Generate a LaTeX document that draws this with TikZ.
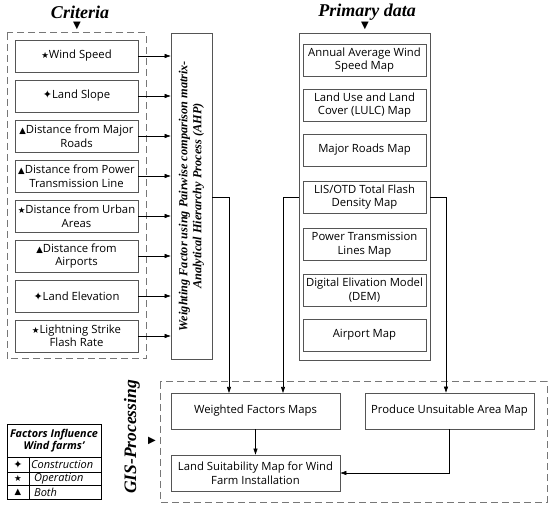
\documentclass[tikz,border=0pt]{standalone}
\usepackage{fontspec}
\setmainfont{Open Sans}
\newfontfamily\tnr{Liberation Serif}
\newfontfamily\sym{DejaVu Sans}
\usetikzlibrary{arrows.meta}
\definecolor{ln}{HTML}{555555}
\definecolor{dl}{HTML}{777777}
\tikzset{
  box/.style={draw=ln, line width=0.8pt, rectangle, align=center, inner sep=1pt, font=\fontsize{11.3}{13.5}\selectfont, text=black},
  cbox/.style={box, minimum width=123pt, minimum height=32pt},
  dbox/.style={draw=dl, line width=1pt, dash pattern=on 7pt off 4pt},
  arr/.style={draw=black, line width=0.6pt, -{Triangle[length=6pt,width=4pt]}},
  conn/.style={draw=black, line width=0.6pt},
  ttl/.style={font=\tnr\bfseries\itshape\fontsize{18}{20}\selectfont},
  tri/.style={font=\sym\fontsize{10}{10}\selectfont},
}
\newcommand{\mk}[1]{{\sym\fontsize{8.5}{8.5}\selectfont #1}}
\newcommand{\mkc}{{\sym\fontsize{11}{8.5}\selectfont ✦}}
\begin{document}
\begin{tikzpicture}[x=1pt,y=-1pt]
\useasboundingbox (0,0) rectangle (550,508);
% Criteria
\node[ttl] (crt) at (80,12) {Criteria};
\node[tri] (crtri) at (77,26) {▼};
\draw[dbox] (7,33) rectangle (146,359);
\node[cbox] (c1) at (76.5,56) {\mk{★}Wind Speed};
\node[cbox] (c2) at (76.5,96) {\mkc Land Slope};
\node[cbox] (c3) at (76.5,136) {\mk{▲}Distance from Major\\Roads};
\node[cbox] (c4) at (76.5,176) {\mk{▲}Distance from Power\\Transmission Line};
\node[cbox] (c5) at (76.5,216) {\mk{★}Distance from Urban\\Areas};
\node[cbox] (c6) at (76.5,256) {\mk{▲}Distance from\\Airports};
\node[cbox] (c7) at (76.5,296) {\mkc Land Elevation};
\node[cbox] (c8) at (76.5,336) {\mk{★}Lightning Strike\\Flash Rate};
% AHP
\node[box, minimum width=41pt, minimum height=326pt] (ahp) at (191.5,196) {};
\node[rotate=90, align=center, font=\tnr\bfseries\itshape\fontsize{12.3}{14}\selectfont] (ahpt) at (ahp.center) {Weighting Factor using Pairwise comparison matrix-\\Analytical Hierarchy Process (AHP)};
\foreach \i in {1,...,8} { \draw[arr] (c\i.east) -- (ahp.west |- c\i.east); }
% Primary data
\node[ttl] (pdt) at (367,12) {Primary data};
\node[tri] (pdtri) at (365,26) {▼};
\node[box, minimum width=131pt, minimum height=327pt] (outer) at (364.5,196.5) {};
\node[cbox] (p1) at (364.5,60) {Annual Average Wind\\Speed Map};
\node[cbox] (p2) at (364.5,105) {Land Use and Land\\Cover (LULC) Map};
\node[cbox] (p3) at (364.5,150) {Major Roads Map};
\node[cbox] (p4) at (364.5,197) {LIS/OTD Total Flash\\Density Map};
\node[cbox] (p5) at (364.5,244.5) {Power Transmission\\Lines Map};
\node[cbox] (p6) at (364.5,290) {Digital Elivation Model\\(DEM)};
\node[cbox] (p7) at (364.5,335) {Airport Map};
% GIS processing
\draw[dbox] (160,382) rectangle (547,502);
\node[rotate=90, font=\tnr\bfseries\itshape\fontsize{17.5}{19}\selectfont] (gis) at (132,437) {GIS-Processing};
\node[tri] (gistri) at (152,441) {▶};
\node[box, minimum width=169pt, minimum height=36pt] (wfm) at (255.5,411) {Weighted Factors Maps};
\node[box, minimum width=169pt, minimum height=36pt] (lsm) at (255.5,473) {Land Suitability Map for Wind\\Farm Installation};
\node[box, minimum width=169pt, minimum height=36pt] (pua) at (449.5,411) {Produce Unsuitable Area Map};
\coordinate (j1) at (229,393);
\coordinate (j2) at (283,393);
\draw[arr] (ahp.east |- p4.center) -| (j1);
\draw[arr] (outer.west |- p4.center) -| (j2);
\draw[arr] (outer.east |- p4.center) -| (pua.north -| 446,0);
\draw[arr] (wfm.south) -- (lsm.north);
\draw[arr] (pua.south -| 449,0) |- (lsm.east);
% Legend
\draw[draw=black, line width=0.7pt] (7,424) rectangle (101,499);
\draw[line width=0.7pt] (7,457) -- (101,457) (7,472) -- (101,472) (7,485.5) -- (101,485.5) (29,457) -- (29,499);
\node[align=center, font=\bfseries\itshape\fontsize{10.8}{12.5}\selectfont, inner sep=0pt] (lh) at (54,440.5) {Factors Influence\\Wind farms'};
\node[font=\sym\fontsize{11}{11}\selectfont] (l1s) at (18,464.5) {✦};
\node[font=\sym\fontsize{8.5}{8.5}\selectfont] (l2s) at (18,478.8) {★};
\node[font=\sym\fontsize{8.5}{8.5}\selectfont] (l3s) at (18,492.3) {▲};
\node[anchor=west, font=\itshape\fontsize{11}{12}\selectfont, inner sep=1pt] (l1) at (30,464.5) {Construction};
\node[anchor=west, font=\itshape\fontsize{11}{12}\selectfont, inner sep=1pt] (l2) at (33,478.8) {Operation};
\node[anchor=west, font=\itshape\fontsize{11}{12}\selectfont, inner sep=1pt] (l3) at (33,492.3) {Both};
\end{tikzpicture}
\end{document}
